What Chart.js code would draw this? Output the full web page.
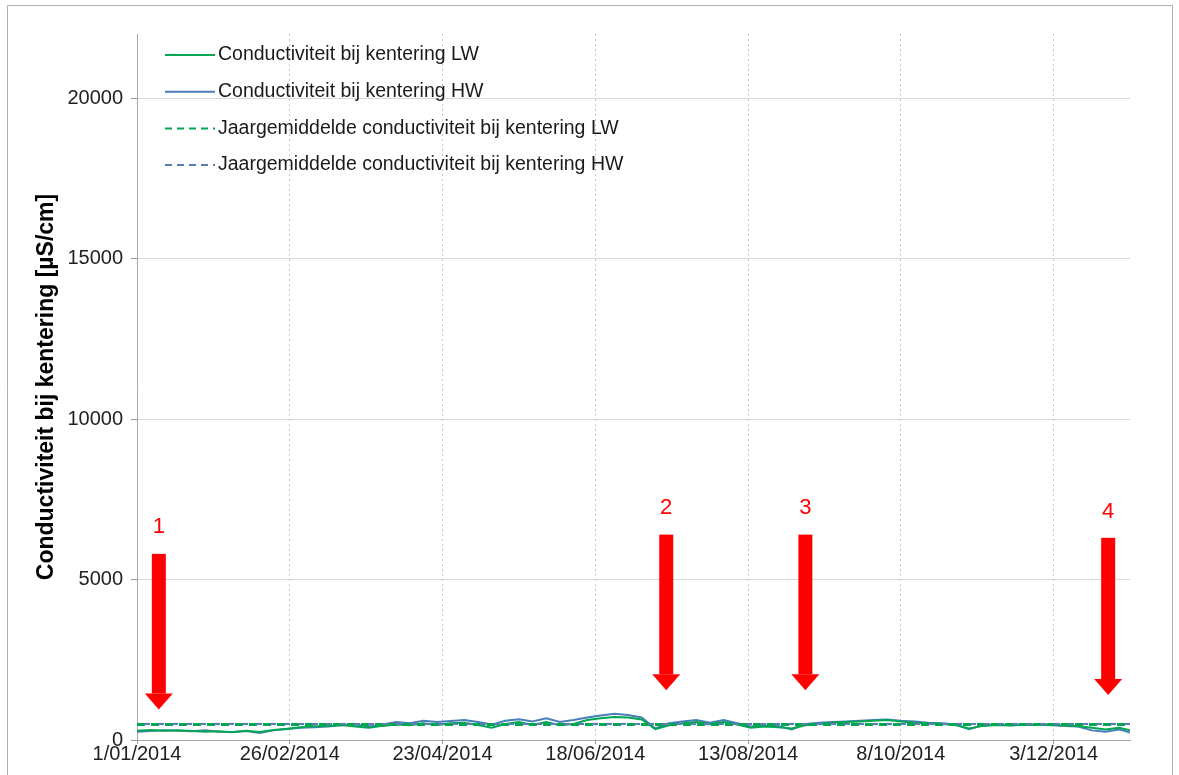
<!DOCTYPE html>
<html>
<head>
<meta charset="utf-8">
<script src="https://cdn.jsdelivr.net/npm/chart.js@4.4.1/dist/chart.umd.min.js"></script>
<style>
  html, body { margin: 0; padding: 0; background: #fff; }
  canvas { display: block; }
</style>
</head>
<body>
<canvas id="chart" width="1179" height="775"></canvas>
<script>
// days since 1/01/2014
const days = [0,5,10,15,20,25,30,35,40,45,50,55,60,65,70,75,80,85,90,95,100,105,110,115,120,125,130,135,140,145,150,155,160,165,170,175,180,185,190,195,200,205,210,215,220,225,230,235,240,245,250,255,260,265,270,275,280,285,290,295,300,305,310,315,320,325,330,335,340,345,350,355,360,364];

// conductivity at HW slack (blue)
const hwValues = [260,280,300,290,270,300,260,250,280,220,300,340,380,400,420,460,480,420,480,560,520,600,560,590,620,560,480,600,650,580,680,560,620,700,760,820,780,700,360,520,580,620,540,620,520,420,460,440,330,500,540,560,580,600,620,640,600,580,540,520,480,340,460,480,460,470,480,460,440,420,300,260,330,230];

// conductivity at LW slack (green)
const lwValues = [290,310,290,300,280,260,270,240,290,250,310,350,400,430,440,470,420,380,440,480,460,520,470,520,540,470,380,500,560,470,560,460,500,620,680,720,700,640,340,460,520,560,500,560,480,380,420,400,360,460,500,540,560,580,600,620,580,540,520,500,470,360,440,470,450,480,470,480,450,430,380,330,380,300];

// yearly means
const meanDays = [0, 364];
const lwMean = 480;
const hwMean = 500;

// axis ticks
const tickDays = [0, 56, 112, 168, 224, 280, 336];
const tickLabels = ["1/01/2014", "26/02/2014", "23/04/2014", "18/06/2014", "13/08/2014", "8/10/2014", "3/12/2014"];
const yTicks = [0, 5000, 10000, 15000, 20000];

// red arrows (day, top value, tip value, label value)
const arrowNames = ["1", "2", "3", "4"];
const arrowDays = [8, 194, 245, 356];
const arrowTops = [5800, 6400, 6400, 6300];
const arrowTips = [950, 1550, 1550, 1400];
const arrowLabelVals = [6650, 7230, 7230, 7100];

const FONT = "'Liberation Sans', Arial, sans-serif";
const GREEN = "#00a651";
const BLUE = "#4a7ebb";

const pts = (xs, ys) => xs.map((x, i) => ({ x, y: ys[i] }));

// frame round the whole picture
const framePlugin = {
  id: "frame",
  beforeDraw(chart){
    const c = chart.ctx;
    c.save();
    c.fillStyle = "#fff";
    c.fillRect(0, 0, chart.width, chart.height);
    c.strokeStyle = "#b0b0b0";
    c.lineWidth = 1;
    c.beginPath();
    c.moveTo(7.5, 800); c.lineTo(7.5, 5.5); c.lineTo(1172.5, 5.5); c.lineTo(1172.5, 800);
    c.stroke();
    c.restore();
  }
};

// arrows + numbers
const arrowPlugin = {
  id: "arrows",
  afterDatasetsDraw(chart){
    const { ctx: c, scales: { x, y } } = chart;
    c.save();
    c.fillStyle = "#ff0000";
    arrowDays.forEach((d, i) => {
      const px = x.getPixelForValue(d);
      const top = y.getPixelForValue(arrowTops[i]);
      const tip = y.getPixelForValue(arrowTips[i]);
      const hh = 16;
      c.fillRect(px - 7, top, 14, tip - hh - top);
      c.beginPath();
      c.moveTo(px - 14, tip - hh);
      c.lineTo(px + 14, tip - hh);
      c.lineTo(px, tip);
      c.closePath();
      c.fill();
      c.font = "22px " + FONT;
      c.textAlign = "center";
      c.textBaseline = "middle";
      c.fillText(arrowNames[i], px, y.getPixelForValue(arrowLabelVals[i]));
    });
    c.restore();
  }
};

// legend inside the plot, top left
const legendPlugin = {
  id: "innerLegend",
  afterDatasetsDraw(chart){
    const c = chart.ctx;
    const a = chart.chartArea;
    c.save();
    c.font = "19.5px " + FONT;
    c.textBaseline = "middle";
    c.textAlign = "left";
    chart.data.datasets.forEach((ds, i) => {
      const yy = a.top + 21 + i * 36.7;
      const x0 = a.left + 28;
      c.strokeStyle = ds.borderColor;
      c.lineWidth = 2;
      c.setLineDash(ds.borderDash ? [7, 5] : []);
      c.beginPath();
      c.moveTo(x0, yy);
      c.lineTo(x0 + 50, yy);
      c.stroke();
      c.setLineDash([]);
      c.fillStyle = "#1a1a1a";
      c.fillText(ds.label, x0 + 53, yy);
    });
    c.restore();
  }
};

new Chart(document.getElementById("chart"), {
  type: "line",
  data: {
    datasets: [
      { label: "Conductiviteit bij kentering LW", data: pts(days, lwValues), borderColor: GREEN, borderWidth: 2, order: 3 },
      { label: "Conductiviteit bij kentering HW", data: pts(days, hwValues), borderColor: BLUE, borderWidth: 2, order: 4 },
      { label: "Jaargemiddelde conductiviteit bij kentering LW", data: pts(meanDays, [lwMean, lwMean]), borderColor: GREEN, borderWidth: 3, borderDash: [8, 6], order: 2 },
      { label: "Jaargemiddelde conductiviteit bij kentering HW", data: pts(meanDays, [hwMean, hwMean]), borderColor: "#5a7fae", borderWidth: 2, borderDash: [6, 8], borderDashOffset: 7, order: 1 }
    ]
  },
  options: {
    responsive: false,
    animation: false,
    devicePixelRatio: 1,
    parsing: false,
    elements: { point: { radius: 0 }, line: { tension: 0 } },
    layout: { padding: { top: 34, right: 49, bottom: 0, left: 0 } },
    plugins: { legend: { display: false }, tooltip: { enabled: false } },
    scales: {
      x: {
        type: "linear",
        min: 0,
        max: 364,
        afterBuildTicks: s => { s.ticks = tickDays.map(v => ({ value: v })); },
        afterFit: s => { s.height = 35; },
        ticks: {
          callback: v => tickLabels[tickDays.indexOf(v)] ?? "",
          font: { family: FONT, size: 20, lineHeight: 1 },
          color: "#222",
          padding: 0,
          maxRotation: 0,
          autoSkip: false
        },
        grid: { color: "#c4c4c4", tickLength: 4, tickColor: "#999" },
        border: { color: "#a6a6a6", dash: [2, 3] }
      },
      y: {
        min: 0,
        max: 22000,
        afterBuildTicks: s => { s.ticks = yTicks.map(v => ({ value: v })); },
        afterFit: s => { s.width = 137; },
        ticks: {
          callback: v => String(v),
          font: { family: FONT, size: 20 },
          color: "#222",
          padding: 8
        },
        grid: { color: "#d9d9d9", tickLength: 6, tickColor: "#999" },
        border: { color: "#a6a6a6" },
        title: {
          display: true,
          text: "Conductiviteit bij kentering [µS/cm]",
          font: { family: FONT, size: 23, weight: "bold" },
          color: "#000",
          padding: { top: 33 }
        }
      }
    }
  },
  plugins: [framePlugin, arrowPlugin, legendPlugin]
});
</script>
</body>
</html>
